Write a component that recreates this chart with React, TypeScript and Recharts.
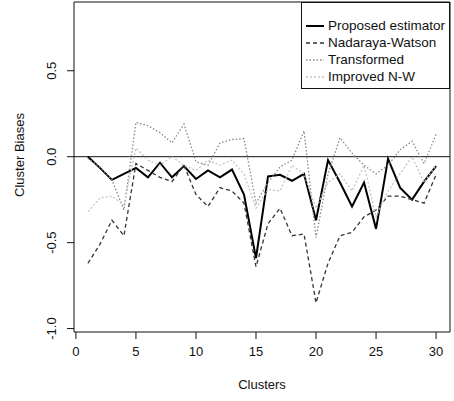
import React from "react";
import {
  LineChart,
  Line,
  XAxis,
  YAxis,
  ReferenceLine,
  ReferenceArea,
} from "recharts";

const clusters = [
  1, 2, 3, 4, 5, 6, 7, 8, 9, 10, 11, 12, 13, 14, 15, 16, 17, 18, 19, 20, 21, 22, 23, 24, 25, 26, 27, 28, 29, 30,
];

const proposed = [
  0.0, -0.065, -0.135, -0.1, -0.065, -0.12, -0.035, -0.12, -0.055, -0.13, -0.08, -0.12, -0.075, -0.22, -0.59,
  -0.115, -0.105, -0.14, -0.1, -0.37, -0.02, -0.15, -0.29, -0.15, -0.42, -0.012, -0.18, -0.25, -0.145, -0.055,
];

const nadarayaWatson = [
  -0.62, -0.51, -0.37, -0.46, -0.04, -0.08, -0.12, -0.145, -0.05, -0.22, -0.29, -0.18, -0.2, -0.27, -0.64,
  -0.39, -0.3, -0.46, -0.45, -0.85, -0.62, -0.46, -0.44, -0.35, -0.31, -0.23, -0.23, -0.25, -0.27, -0.105,
];

const transformed = [
  -0.01, -0.06, -0.135, -0.31, 0.2, 0.18, 0.14, 0.08, 0.19, -0.03, -0.05, 0.08, 0.1, 0.105, -0.27, -0.15,
  -0.06, -0.02, 0.15, -0.47, -0.1, 0.11, 0.02, -0.05, -0.1, -0.05, 0.04, 0.09, -0.04, 0.13,
];

const improvedNW = [
  -0.32, -0.24, -0.23, -0.28, 0.05, -0.02, -0.05, 0.0, -0.05, -0.08, -0.02, -0.05, -0.02, -0.1, -0.3, -0.19,
  -0.2, -0.05, -0.1, -0.3, -0.15, -0.1, -0.2, -0.05, -0.35, -0.2, -0.1, 0.0, -0.15, -0.05,
];

const xTicks = [0, 5, 10, 15, 20, 25, 30];
const yTicks = [-1.0, -0.5, 0.0, 0.5];

const series = [
  { key: "proposed", name: "Proposed estimator", color: "#000", width: 2, dash: undefined },
  { key: "nw", name: "Nadaraya-Watson", color: "#333", width: 1.3, dash: "4 3" },
  { key: "transformed", name: "Transformed", color: "#888", width: 1.3, dash: "1.5 2" },
  { key: "improved", name: "Improved N-W", color: "#c4c4c4", width: 1.3, dash: "2 2" },
];

const data = clusters.map((c, i) => ({
  cluster: c,
  proposed: proposed[i],
  nw: nadarayaWatson[i],
  transformed: transformed[i],
  improved: improvedNW[i],
}));

const FONT = "'Liberation Sans', Arial, sans-serif";

const YTick = (props: any) => {
  const { x, y, payload } = props;
  const tx = x - 9;
  return (
    <text
      x={tx}
      y={y}
      transform={`rotate(-90 ${tx} ${y})`}
      textAnchor="middle"
      fontSize={13}
      fontFamily={FONT}
      fill="#111"
    >
      {payload.value.toFixed(1)}
    </text>
  );
};

const LegendBox = () => (
  <div
    style={{
      position: "absolute",
      left: 301,
      top: 2,
      width: 147,
      height: 85,
      border: "1px solid #111",
      background: "#fff",
      fontFamily: FONT,
      fontSize: 13.5,
      color: "#111",
    }}
  >
    {series.map((s, i) => (
      <div key={s.key} style={{ display: "flex", alignItems: "center", height: 17, marginTop: i === 0 ? 14 : 0 }}>
        <svg width={26} height={10}>
          <line
            x1={4}
            x2={22}
            y1={5}
            y2={5}
            stroke={s.color}
            strokeWidth={s.width}
            strokeDasharray={s.dash}
          />
        </svg>
        <span style={{ lineHeight: "17px" }}>{s.name}</span>
      </div>
    ))}
  </div>
);

export default function App() {
  return (
    <div style={{ position: "absolute", left: 0, top: 0, width: 454, height: 401, background: "#fff" }}>
      <LineChart width={454} height={401} data={data} margin={{ top: 2, right: 4, left: 24, bottom: 0 }}>
        <XAxis
          dataKey="cluster"
          type="number"
          domain={[-0.16, 31.16]}
          ticks={xTicks}
          allowDataOverflow
          axisLine={false}
          tickLine={{ stroke: "#111" }}
          tickSize={7}
          height={69}
          tick={{ fontSize: 13, fontFamily: FONT, fill: "#111", dy: 6 }}
          label={{
            value: "Clusters",
            position: "insideBottom",
            offset: 12,
            fontSize: 13,
            fontFamily: FONT,
            fill: "#111",
          }}
        />
        <YAxis
          type="number"
          domain={[-1.02, 0.9]}
          ticks={yTicks}
          allowDataOverflow
          axisLine={false}
          tickLine={{ stroke: "#111" }}
          tickSize={7}
          width={50}
          tick={<YTick />}
          label={{
            value: "Cluster Biases",
            angle: -90,
            position: "insideLeft",
            offset: -5,
            dy: -12,
            fontSize: 13,
            fontFamily: FONT,
            fill: "#111",
            style: { textAnchor: "middle" },
          }}
        />
        <ReferenceArea x1={-0.16} x2={31.16} y1={-1.02} y2={0.9} fill="none" stroke="#111" strokeWidth={1} />
        <ReferenceLine y={0} stroke="#111" strokeWidth={1} />
        {series.map((s) => (
          <Line
            key={s.key}
            type="linear"
            dataKey={s.key}
            name={s.name}
            stroke={s.color}
            strokeWidth={s.width}
            strokeDasharray={s.dash}
            dot={false}
            isAnimationActive={false}
          />
        ))}
      </LineChart>
      <LegendBox />
    </div>
  );
}
